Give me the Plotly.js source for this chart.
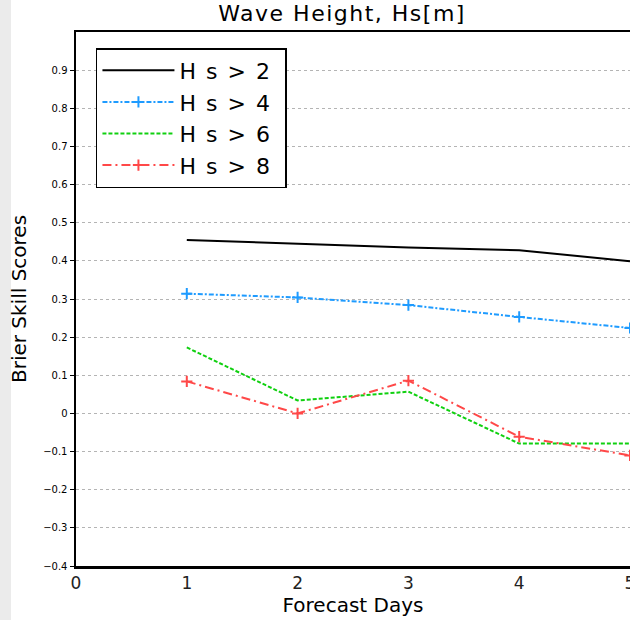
<!DOCTYPE html>
<html>
<head>
<meta charset="utf-8">
<script src="https://cdn.plot.ly/plotly-3.0.1.min.js"></script>
<style>
html,body{margin:0;padding:0;background:#fff;}
#chart{width:630px;height:620px;}
.legendtext{letter-spacing:10px;}
.gtitle{letter-spacing:1.5px;}
</style>
</head>
<body>
<div id="chart"></div>
<script>
const days = [1, 2, 3, 4, 5];
const seriesNames = ["Hs>2", "Hs>4", "Hs>6", "Hs>8"];
const hs2 = [0.455, 0.445, 0.435, 0.428, 0.399];
const hs4 = [0.314, 0.304, 0.284, 0.253, 0.224];
const hs6 = [0.173, 0.034, 0.057, -0.079, -0.079];
const hs8 = [0.084, 0.000, 0.086, -0.061, -0.110];
const yTicks = [-0.4, -0.3, -0.2, -0.1, 0, 0.1, 0.2, 0.3, 0.4, 0.5, 0.6, 0.7, 0.8, 0.9];
const yTickLabels = ["\u22120.4", "\u22120.3", "\u22120.2", "\u22120.1", "0", "0.1", "0.2", "0.3", "0.4", "0.5", "0.6", "0.7", "0.8", "0.9"];
const xTicks = [0, 1, 2, 3, 4, 5];

const traces = [
  {x: days, y: hs2, name: seriesNames[0], mode: "lines",
   line: {color: "#000000", width: 2}},
  {x: days, y: hs4, name: seriesNames[1], mode: "lines+markers",
   line: {color: "#1e9bff", width: 2, dash: "5px,2px,2px,2px"},
   marker: {symbol: "cross-thin", size: 8, line: {color: "#1e9bff", width: 2}}},
  {x: days, y: hs6, name: seriesNames[2], mode: "lines",
   line: {color: "#10d010", width: 2, dash: "4px,2px"}},
  {x: days, y: hs8, name: seriesNames[3], mode: "lines+markers",
   line: {color: "#ff4848", width: 2, dash: "9px,4px,2px,4px"},
   marker: {symbol: "cross-thin", size: 8, line: {color: "#ff4848", width: 2}}}
];

const layout = {
  width: 630, height: 620,
  margin: {l: 76, r: 0, t: 32, b: 54},
  paper_bgcolor: "#ffffff", plot_bgcolor: "#ffffff",
  font: {family: "DejaVu Sans", color: "#000"},
  title: {text: "Wave Height, Hs[m]", font: {size: 22, family: "DejaVu Sans", color: "#000"},
          x: 0.543, xanchor: "center", y: 0.978, yanchor: "middle"},
  showlegend: true,
  legend: {x: 0.036, y: 0.970, xanchor: "left", yanchor: "top",
           bgcolor: "#ffffff", bordercolor: "#000", borderwidth: 1.5,
           font: {size: 22, family: "DejaVu Sans", color: "#000"},
           itemwidth: 72, tracegroupgap: 0},
  xaxis: {range: [0, 5], tickvals: xTicks, ticktext: xTicks.map(String),
          showgrid: false, zeroline: false, showline: true, linecolor: "#000", linewidth: 2.5,
          mirror: true, ticks: "", ticklabeloverflow: "allow",
          tickfont: {size: 17, family: "DejaVu Sans", color: "#222"},
          title: {text: "Forecast Days", font: {size: 20, family: "DejaVu Sans"}, standoff: 4}},
  yaxis: {range: [-0.4, 1.0], tickvals: yTicks, ticktext: yTickLabels,
          showgrid: true, gridcolor: "#b4b4b4", gridwidth: 1, griddash: "dot",
          zeroline: false, showline: true, linecolor: "#000", linewidth: 2.5,
          ticks: "outside", ticklen: 4, tickcolor: "#000", tickwidth: 1,
          tickfont: {size: 10, family: "DejaVu Sans", color: "#000"},
          title: {text: "Brier Skill Scores", font: {size: 20, family: "DejaVu Sans"}, standoff: 11}},
  shapes: [{type: "rect", xref: "paper", yref: "paper",
            x0: -76/554, x1: -65/554, y0: -54/534, y1: 1 + 32/534,
            fillcolor: "#ebebeb", line: {width: 0}, layer: "below"}]
};

Plotly.newPlot("chart", traces, layout, {displayModeBar: false, staticPlot: true});
</script>
</body>
</html>
